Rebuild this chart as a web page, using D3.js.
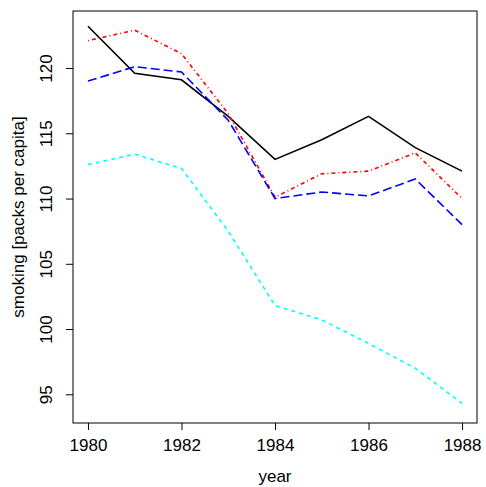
<!DOCTYPE html>
<html><head><meta charset="utf-8">
<script src="https://cdn.jsdelivr.net/npm/d3@7"></script>
<style>body{margin:0;background:#fff}text{font-family:"Liberation Sans",Arial,sans-serif}</style>
</head><body>
<svg id="chart" width="486" height="487"></svg>
<script>
var years = [1980,1981,1982,1983,1984,1985,1986,1987,1988];
var seriesBlack = [123.2,119.6,119.1,116.3,113.0,114.5,116.3,113.9,112.1];
var seriesRed   = [122.1,122.9,121.1,116.5,110.1,111.9,112.1,113.5,110.0];
var seriesBlue  = [119.0,120.1,119.7,116.0,110.0,110.5,110.2,111.5,108.0];
var seriesCyan  = [112.6,113.4,112.3,107.5,101.8,100.7,98.9,97.0,94.3];
var xTicks = [1980,1982,1984,1986,1988];
var yTicks = [95,100,105,110,115,120];

var svg = d3.select("#chart");
var L = 73, R = 477, T = 11, B = 423;
var x = d3.scaleLinear().domain([1979.68,1988.32]).range([L,R]);
var y = d3.scaleLinear().domain([92.8,124.37]).range([B,T]);

var series = [
  {v: seriesBlack, c: "#000", d: null},
  {v: seriesRed, c: "#f00", d: "1,3,4,3"},
  {v: seriesBlue, c: "#00f", d: "9,4"},
  {v: seriesCyan, c: "#0ff", d: "4,4"}
];
var line = d3.line().x(function(d,i){ return x(years[i]); }).y(function(d){ return y(d); });
series.forEach(function(s){
  svg.append("path").attr("d", line(s.v)).attr("fill","none")
    .attr("stroke", s.c).attr("stroke-width",1.6)
    .attr("stroke-dasharray", s.d);
});

svg.append("rect").attr("x",L).attr("y",T).attr("width",R-L).attr("height",B-T)
  .attr("fill","none").attr("stroke","#000").attr("stroke-width",1);

var xa = svg.append("g").attr("transform","translate(0,"+B+")")
  .call(d3.axisBottom(x).tickValues(xTicks).tickFormat(d3.format("d")).tickSize(7).tickPadding(9));
var ya = svg.append("g").attr("transform","translate("+L+",0)")
  .call(d3.axisLeft(y).tickValues(yTicks).tickSize(7));
[xa,ya].forEach(function(a){
  a.select(".domain").remove();
  a.selectAll("text").attr("font-size",17).attr("fill","#000");
});
ya.selectAll(".tick text").attr("text-anchor","middle")
  .attr("transform","rotate(-90)").attr("x",0).attr("y",-21).attr("dy","0");

svg.append("text").attr("x",(L+R)/2).attr("y",482).attr("text-anchor","middle")
  .attr("font-size",17).text("year");
svg.append("text").attr("transform","translate(24,"+((T+B)/2)+") rotate(-90)")
  .attr("text-anchor","middle").attr("font-size",17).text("smoking [packs per capita]");
</script>
</body></html>
